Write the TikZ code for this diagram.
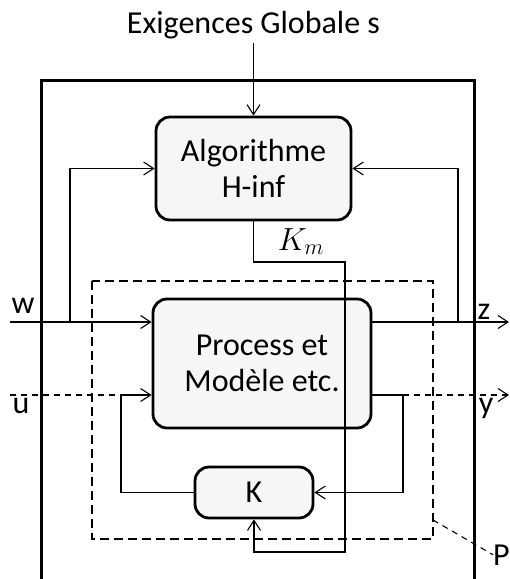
\RequirePackage{fix-cm}
\documentclass[tikz,border=0pt]{standalone}
\usepackage{fontspec}
\setmainfont{Carlito}
\usetikzlibrary{arrows.meta}

\begin{document}
\begin{tikzpicture}[x=1pt,y=-1pt]
  \tikzset{block/.style = {draw,line width=2.8pt,rounded corners=14pt,fill=gray!7,align=center,inner sep=0pt,font=\fontsize{32}{36}\selectfont}}
  \tikzset{link/.style = {-{Straight Barb[length=10pt,width=13pt]},line width=1.1pt}}
  \tikzset{lbl/.style = {inner sep=0pt,font=\fontsize{32}{36}\selectfont}}
  \tikzset{thindash/.style = {line width=1.1pt,dash pattern=on 6pt off 5pt}}

  \useasboundingbox (0,0) rectangle (510,579);

  % outer frame
  \draw[line width=3pt] (41,579) -- (41,80) -- (474,80) -- (474,579);
  % dashed box P
  \draw[line width=2.8pt,dash pattern=on 9pt off 5pt] (92,281) rectangle (433,539);

	\node[lbl,anchor=base] (req) at (253.5,33) {Exigences Globale s};
	\node[block,minimum width=195pt,minimum height=103pt] (algo) at (253.5,168.5) {Algorithme\\H-inf};
	\node[block,minimum width=218pt,minimum height=129pt] (proc) at (262,363.5) {Process et\\Modèle etc.};
	\node[block,minimum width=118pt,minimum height=51pt] (kc) at (254,492.5) {K};

	\node[lbl,anchor=base] (wl) at (23,313) {w};
	\node[lbl,anchor=base] (zl) at (484,319) {z};
	\node[lbl,anchor=base] (ul) at (21,413) {u};
	\node[lbl,anchor=base] (yl) at (486,413) {y};
	\node[lbl,anchor=base west] (pl) at (493,565) {P};
	\node[lbl,anchor=base] (kml) at (301,250) {$K_m$};

	\coordinate (win) at (10,322);
	\coordinate (wtap) at (70,322);
	\coordinate (zout) at (509,322);
	\coordinate (ztap) at (458,322);
	\coordinate (uin) at (10,395);
	\coordinate (fbl) at (121,395);
	\coordinate (fbr) at (403,395);
	\coordinate (yout) at (509,395);
	\coordinate (kmA) at (345,262);
	\coordinate (kmB) at (345,552);
	\coordinate (pA) at (433,520);

	\draw[link] (req.south) ++(0,4) -- (algo.north);
	\draw[link] (win) -- (win -| proc.west);
	\draw[link] (wtap) |- (algo.west);
	\draw[link] (win -| proc.east) -- (zout);
	\draw[link] (ztap) |- (algo.east);
	\draw[thindash] (uin) -- (fbl);
	\draw[link] (kc.west) -| (fbl) -- (fbl -| proc.west);
	\draw[link] (fbr -| proc.east) -- (fbr) |- (kc.east);
	\draw[thindash,-{Straight Barb[length=10pt,width=13pt]}] (fbr) -- (yout);
	\draw[link] (algo.south) |- (kmA) -- (kmB) -| (kc.south);
	\draw[thindash] (pA) -- (pl.west);

\end{tikzpicture}
\end{document}
